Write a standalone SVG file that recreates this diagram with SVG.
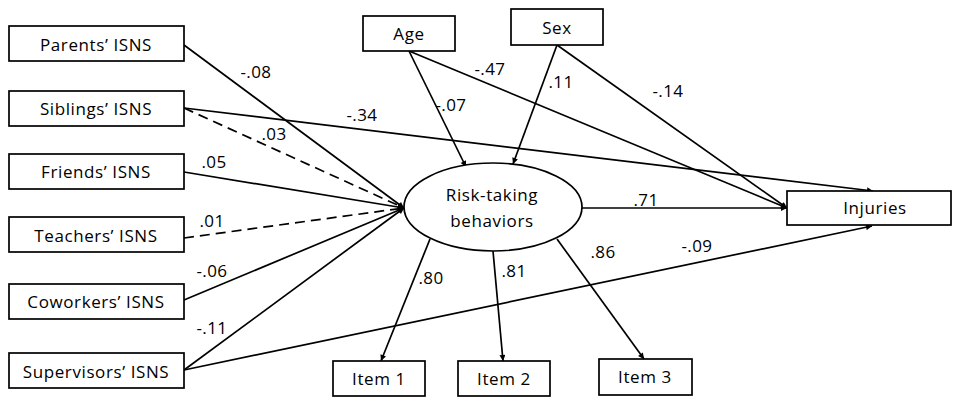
<svg xmlns="http://www.w3.org/2000/svg" width="954" height="399" viewBox="0 0 954 399">
<style>
.box{fill:#fff;stroke:#000;stroke-width:1.7}
.t{font-family:"Open Sans","Noto Sans",sans-serif;font-size:17px;letter-spacing:0.6px;fill:#000;text-anchor:middle;dominant-baseline:central}
.l{font-family:"Open Sans","Noto Sans",sans-serif;font-size:17px;letter-spacing:0.4px;fill:#000;text-anchor:middle;dominant-baseline:central}
.c{fill:none;stroke:#000;stroke-width:1.7;marker-end:url(#ah)}
.d{stroke-dasharray:10,6}
</style>
<defs>
<marker id="ah" viewBox="0 0 10 10" refX="10" refY="5" markerWidth="9" markerHeight="6" markerUnits="userSpaceOnUse" orient="auto">
<path d="M0,0 L10,5 L0,10 z" fill="#000"/>
</marker>
</defs>
<g id="connectors">
<line class="c" x1="184" y1="45" x2="404" y2="208"/>
<line class="c" x1="184" y1="108" x2="873" y2="191"/>
<line class="c d" x1="184" y1="108" x2="404" y2="208"/>
<line class="c" x1="184" y1="172" x2="404" y2="208"/>
<line class="c d" x1="184" y1="238" x2="404" y2="208"/>
<line class="c" x1="184" y1="300" x2="404" y2="208"/>
<line class="c" x1="184" y1="370" x2="404" y2="208"/>
<line class="c" x1="184" y1="370" x2="872" y2="226"/>
<line class="c" x1="409" y1="51" x2="466" y2="167"/>
<line class="c" x1="409" y1="51" x2="787" y2="208"/>
<line class="c" x1="557" y1="45" x2="513" y2="164"/>
<line class="c" x1="557" y1="45" x2="787" y2="208"/>
<line class="c" x1="582" y1="208" x2="787" y2="208"/>
<line class="c" x1="430" y1="239" x2="381" y2="361"/>
<line class="c" x1="493" y1="251" x2="503" y2="361"/>
<line class="c" x1="557" y1="239" x2="644" y2="359"/>
</g>
<g id="parents"><rect class="box" x="9" y="26" width="175" height="35"/><text class="t" x="96" y="44">Parents’ ISNS</text></g>
<g id="siblings"><rect class="box" x="9" y="91" width="175" height="35"/><text class="t" x="96" y="108">Siblings’ ISNS</text></g>
<g id="friends"><rect class="box" x="9" y="154" width="175" height="35"/><text class="t" x="96" y="171">Friends’ ISNS</text></g>
<g id="teachers"><rect class="box" x="9" y="217" width="175" height="35"/><text class="t" x="96" y="235">Teachers’ ISNS</text></g>
<g id="coworkers"><rect class="box" x="9" y="284" width="175" height="35"/><text class="t" x="96" y="301">Coworkers’ ISNS</text></g>
<g id="supervisors"><rect class="box" x="9" y="353" width="175" height="35"/><text class="t" x="96" y="371">Supervisors’ ISNS</text></g>
<g id="age"><rect class="box" x="363" y="16" width="92" height="35"/><text class="t" x="409" y="33">Age</text></g>
<g id="sex"><rect class="box" x="511" y="9" width="92" height="36"/><text class="t" x="557" y="27">Sex</text></g>
<g id="risk"><ellipse cx="493" cy="207" rx="89" ry="44" fill="#fff" stroke="#000" stroke-width="1.7"/><text class="t" x="492" y="194">Risk-taking</text><text class="t" x="492" y="220">behaviors</text></g>
<g id="injuries"><rect class="box" x="787" y="191" width="164" height="34"/><text class="t" x="875" y="207">Injuries</text></g>
<g id="item1"><rect class="box" x="333" y="361" width="92" height="35"/><text class="t" x="379" y="378">Item 1</text></g>
<g id="item2"><rect class="box" x="458" y="361" width="92" height="35"/><text class="t" x="504" y="378">Item 2</text></g>
<g id="item3"><rect class="box" x="599" y="359" width="93" height="36"/><text class="t" x="645" y="376">Item 3</text></g>
<g id="labels">
<text class="l" x="256" y="71">-.08</text>
<text class="l" x="362" y="114">-.34</text>
<text class="l" x="274" y="133">.03</text>
<text class="l" x="214" y="161">.05</text>
<text class="l" x="451" y="104">-.07</text>
<text class="l" x="490" y="68">-.47</text>
<text class="l" x="561" y="81">.11</text>
<text class="l" x="668" y="90">-.14</text>
<text class="l" x="646" y="199">.71</text>
<text class="l" x="212" y="220">.01</text>
<text class="l" x="212" y="270">-.06</text>
<text class="l" x="212" y="327">-.11</text>
<text class="l" x="431" y="277">.80</text>
<text class="l" x="514" y="270">.81</text>
<text class="l" x="603" y="251">.86</text>
<text class="l" x="697" y="245">-.09</text>
</g>
</svg>
